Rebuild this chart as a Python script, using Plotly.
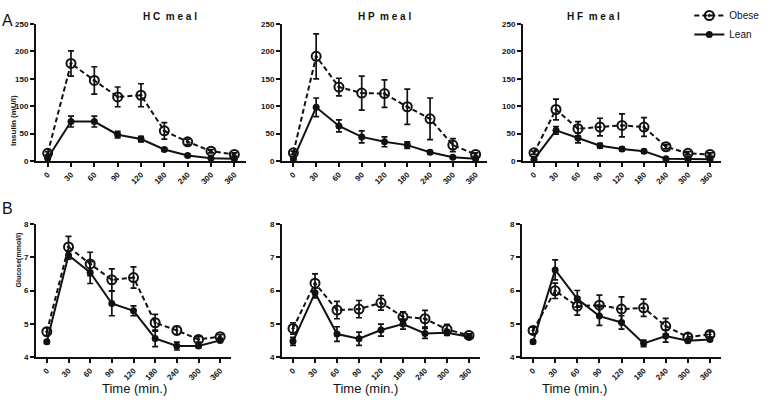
import plotly.graph_objects as go

times = ["0", "30", "60", "90", "120", "180", "240", "300", "360"]
meals = ["HC meal", "HP meal", "HF meal"]

# insulin (mU/l), mean and error
ins_obese = {
    "HC meal": [14, 178, 147, 117, 120, 55, 35, 18, 12],
    "HP meal": [15, 191, 135, 124, 123, 99, 77, 29, 12],
    "HF meal": [15, 94, 59, 62, 65, 62, 26, 14, 12],
}
ins_obese_err = {
    "HC meal": [3, 23, 25, 18, 21, 15, 5, 3, 3],
    "HP meal": [3, 41, 16, 31, 25, 32, 38, 12, 3],
    "HF meal": [3, 19, 13, 16, 21, 17, 4, 3, 3],
}
ins_lean = {
    "HC meal": [5, 72, 72, 48, 40, 21, 10, 5, 4],
    "HP meal": [4, 98, 64, 44, 35, 29, 16, 7, 4],
    "HF meal": [3, 56, 42, 28, 22, 18, 4, 3, 3],
}
ins_lean_err = {
    "HC meal": [2, 10, 10, 6, 5, 3, 2, 1, 1],
    "HP meal": [2, 17, 11, 11, 9, 6, 3, 2, 1],
    "HF meal": [1, 7, 9, 4, 3, 3, 1, 1, 1],
}

# glucose (mmol/l)
glu_obese = {
    "HC meal": [4.76, 7.31, 6.80, 6.32, 6.39, 5.03, 4.80, 4.53, 4.61],
    "HP meal": [4.86, 6.22, 5.41, 5.44, 5.63, 5.21, 5.15, 4.83, 4.65],
    "HF meal": [4.80, 5.99, 5.53, 5.56, 5.44, 5.48, 4.93, 4.60, 4.68],
}
glu_obese_err = {
    "HC meal": [0.12, 0.32, 0.35, 0.33, 0.32, 0.25, 0.12, 0.08, 0.06],
    "HP meal": [0.17, 0.28, 0.26, 0.26, 0.22, 0.15, 0.25, 0.15, 0.05],
    "HF meal": [0.10, 0.23, 0.27, 0.30, 0.37, 0.26, 0.23, 0.10, 0.08],
}
glu_lean = {
    "HC meal": [4.46, 7.06, 6.54, 5.61, 5.39, 4.56, 4.33, 4.33, 4.50],
    "HP meal": [4.47, 5.93, 4.69, 4.55, 4.81, 4.99, 4.71, 4.73, 4.61],
    "HF meal": [4.46, 6.62, 5.75, 5.23, 5.04, 4.41, 4.63, 4.49, 4.53],
}
glu_lean_err = {
    "HC meal": [0.05, 0.12, 0.33, 0.37, 0.15, 0.25, 0.12, 0.05, 0.05],
    "HP meal": [0.12, 0.15, 0.22, 0.20, 0.18, 0.15, 0.15, 0.08, 0.05],
    "HF meal": [0.05, 0.30, 0.25, 0.28, 0.20, 0.10, 0.18, 0.05, 0.05],
}

W, H = 778, 405
INK = "#111111"

# panel boxes in pixels: (left, right)
top_x = [(36, 246), (282, 487), (523, 721)]
bot_x = [(36, 231), (282, 480), (522, 721)]
top_y = (24, 161)
bot_y = (224, 357)
time_label_x = [100, 365, 609]


def px_dom(a, b):
    return [a / W, b / W]


def py_dom(top, bottom):
    return [1 - bottom / H, 1 - top / H]


fig = go.Figure()


def add_pair(idx, obese, oerr, lean, lerr, show):
    xa = "x" if idx == 1 else f"x{idx}"
    ya = "y" if idx == 1 else f"y{idx}"
    fig.add_trace(go.Scatter(
        x=times, y=obese, xaxis=xa, yaxis=ya, name="Obese", showlegend=show,
        mode="lines+markers",
        line=dict(color=INK, width=2, dash="5px,3px"),
        marker=dict(symbol="circle-open-dot", size=9, color=INK, line=dict(width=2, color=INK)),
        error_y=dict(type="data", array=oerr, color=INK, thickness=1.7, width=3),
    ))
    fig.add_trace(go.Scatter(
        x=times, y=lean, xaxis=xa, yaxis=ya, name="Lean", showlegend=show,
        mode="lines+markers",
        line=dict(color=INK, width=2),
        marker=dict(symbol="circle", size=7, color=INK),
        error_y=dict(type="data", array=lerr, color=INK, thickness=1.7, width=3),
    ))


axis_common = dict(
    showline=True, linecolor=INK, linewidth=2, showgrid=False, zeroline=False,
    ticks="outside", ticklen=4, tickwidth=1.5, tickcolor=INK,
    tickfont=dict(family="Liberation Sans", size=8, color=INK, weight="bold"),
)

layout = {}
for i, meal in enumerate(meals):
    idx = i + 1
    add_pair(idx, ins_obese[meal], ins_obese_err[meal], ins_lean[meal], ins_lean_err[meal], i == 0)
    idx2 = i + 4
    add_pair(idx2, glu_obese[meal], glu_obese_err[meal], glu_lean[meal], glu_lean_err[meal], False)

    for k, xs, ys, yr, dt in [(idx, top_x[i], top_y, [0, 250], 50), (idx2, bot_x[i], bot_y, [4, 8], 1)]:
        xk = "xaxis" if k == 1 else f"xaxis{k}"
        yk = "yaxis" if k == 1 else f"yaxis{k}"
        ya = "y" if k == 1 else f"y{k}"
        xa = "x" if k == 1 else f"x{k}"
        layout[xk] = dict(axis_common, domain=px_dom(*xs), anchor=ya, type="category",
                          range=[-0.5, 8.5], tickangle=-45)
        layout[yk] = dict(axis_common, domain=py_dom(*ys), anchor=xa, range=yr, dtick=dt)

bold = dict(family="Liberation Sans", color=INK)
annotations = []
for i, meal in enumerate(meals):
    cx = (top_x[i][0] + top_x[i][1]) / 2
    annotations.append(dict(x=cx / W, y=1 - 9 / H, xref="paper", yref="paper",
                            text="<b>" + " ".join(meal.split(" ")[0]) + "  " + " ".join("meal") + "</b>",
                            showarrow=False, font=dict(bold, size=10)))
    annotations.append(dict(x=time_label_x[i] / W, y=1 - 398 / H, xref="paper", yref="paper",
                            text="Time (min.)", showarrow=False,
                            font=dict(family="Liberation Sans", size=13, color=INK)))

annotations += [
    dict(x=0, y=1 - 10 / H, xref="paper", yref="paper", text="A", showarrow=False,
         xanchor="left", font=dict(family="Liberation Sans", size=16, color=INK)),
    dict(x=0, y=1 - 208 / H, xref="paper", yref="paper", text="B", showarrow=False,
         xanchor="left", font=dict(family="Liberation Sans", size=16, color=INK)),
    dict(x=7 / W, y=1 - 93 / H, xref="paper", yref="paper", text="<b>Insulin (mU/l)</b>",
         textangle=-90, showarrow=False, font=dict(bold, size=8)),
    dict(x=12 / W, y=1 - 290 / H, xref="paper", yref="paper", text="<b>Glucose(mmol/l)</b>",
         textangle=-90, showarrow=False, font=dict(bold, size=7)),
]

fig.update_layout(
    width=W, height=H,
    margin=dict(l=0, r=0, t=0, b=0, autoexpand=False),
    plot_bgcolor="white", paper_bgcolor="white",
    annotations=annotations,
    legend=dict(x=0.886, y=1 - 1 / H, xanchor="left", yanchor="top",
                font=dict(family="Liberation Sans", size=10, color=INK),
                itemwidth=30, tracegroupgap=0, bgcolor="rgba(0,0,0,0)"),
    **layout,
)

# drop the default 8px page margin so the figure sits at the window corner
fig.write_html("out.html", config={"displayModeBar": False},
               post_script="document.body.style.margin='0';")
